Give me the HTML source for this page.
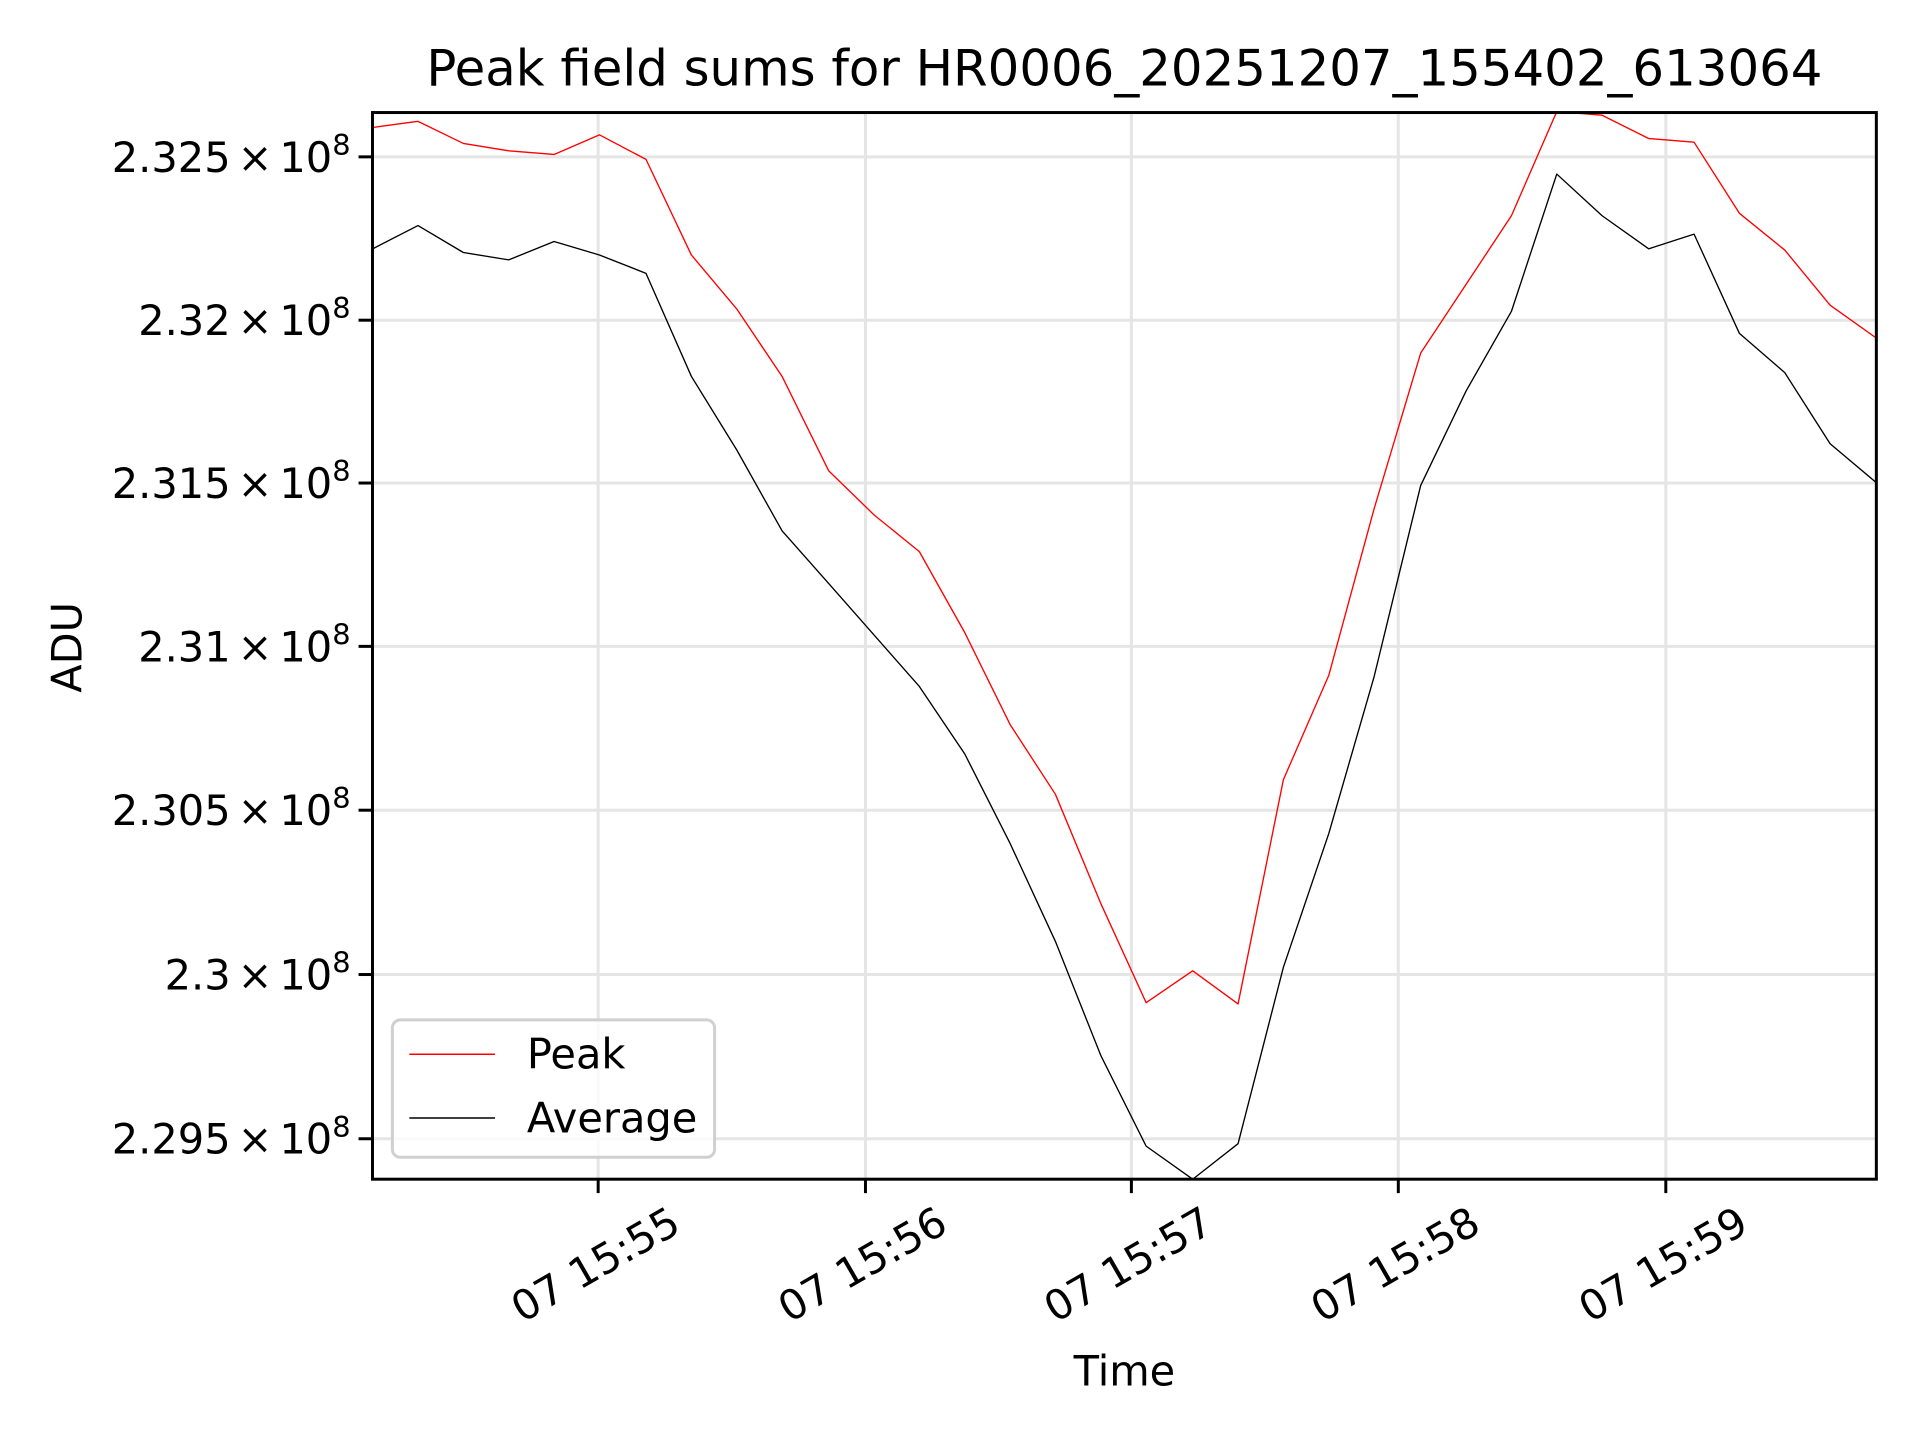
<!DOCTYPE html>
<html><head><meta charset="utf-8"><style>
html,body{margin:0;padding:0;background:#fff}
svg{display:block}
text{font-family:"DejaVu Sans","Liberation Sans",sans-serif;fill:#000}
</style></head><body>
<svg width="1920" height="1440" viewBox="0 0 1920 1440" xmlns="http://www.w3.org/2000/svg">
<defs><clipPath id="c"><rect x="374" y="113" width="1510" height="1071"/></clipPath></defs>
<rect width="1920" height="1440" fill="#fff"/>
<g transform="scale(0.99594)">
<g stroke="#e5e5e5" stroke-width="3">
<line x1="374" x2="1884" y1="157.5" y2="157.5"/>
<line x1="374" x2="1884" y1="321.5" y2="321.5"/>
<line x1="374" x2="1884" y1="485" y2="485"/>
<line x1="374" x2="1884" y1="649" y2="649"/>
<line x1="374" x2="1884" y1="813.5" y2="813.5"/>
<line x1="374" x2="1884" y1="978.5" y2="978.5"/>
<line x1="374" x2="1884" y1="1143.4" y2="1143.4"/>
<line y1="113" y2="1184" x1="600.6" x2="600.6"/>
<line y1="113" y2="1184" x1="869" x2="869"/>
<line y1="113" y2="1184" x1="1136" x2="1136"/>
<line y1="113" y2="1184" x1="1404" x2="1404"/>
<line y1="113" y2="1184" x1="1672.6" x2="1672.6"/>
</g>
<g clip-path="url(#c)">
<g transform="scale(1.2308)" fill="none" stroke-linejoin="round">
<polyline stroke="#ff0000" stroke-width="1.1" points="304,104 341,99 378,117 415,123 452,126 489,110 527,130 564,208 601,252 638,307 676,384 713,420 750,450 787,516 824,591 861,648 898,737 935,818 973,792 1010,819 1047,636 1084,551 1121,415 1159,288 1196,232 1233,176 1270,91 1307,94 1345,113 1382,116 1419,174 1456,204 1493,249 1531,276"/>
<polyline stroke="#000" stroke-width="1.1" points="304,203 341,184 378,206 415,212 452,197 489,208 527,223 564,307 601,367 638,433 676,476 713,518 750,560 787,615 824,688 861,768 898,861 935,935 973,962 1010,933 1047,789 1084,680 1121,552 1159,396 1196,319 1233,254 1270,142 1307,176 1345,203 1382,191 1419,272 1456,304 1493,362 1531,394"/>
</g>
</g>
<rect x="374" y="113" width="1510" height="1071" fill="none" stroke="#000" stroke-width="3"/>
<g stroke="#000" stroke-width="3">
<line x1="360" x2="374" y1="157.5" y2="157.5"/>
<line x1="360" x2="374" y1="321.5" y2="321.5"/>
<line x1="360" x2="374" y1="485" y2="485"/>
<line x1="360" x2="374" y1="649" y2="649"/>
<line x1="360" x2="374" y1="813.5" y2="813.5"/>
<line x1="360" x2="374" y1="978.5" y2="978.5"/>
<line x1="360" x2="374" y1="1143.4" y2="1143.4"/>
<line y1="1184" y2="1198" x1="600.6" x2="600.6"/>
<line y1="1184" y2="1198" x1="869" x2="869"/>
<line y1="1184" y2="1198" x1="1136" x2="1136"/>
<line y1="1184" y2="1198" x1="1404" x2="1404"/>
<line y1="1184" y2="1198" x1="1672.6" x2="1672.6"/>
</g>
<g font-size="41.7" text-anchor="end">
<text x="352" y="172.5">2.325<tspan dx="7">×</tspan><tspan dx="7">10</tspan><tspan font-size="29" dy="-17">8</tspan></text>
<text x="352" y="336.5">2.32<tspan dx="7">×</tspan><tspan dx="7">10</tspan><tspan font-size="29" dy="-17">8</tspan></text>
<text x="352" y="500">2.315<tspan dx="7">×</tspan><tspan dx="7">10</tspan><tspan font-size="29" dy="-17">8</tspan></text>
<text x="352" y="664">2.31<tspan dx="7">×</tspan><tspan dx="7">10</tspan><tspan font-size="29" dy="-17">8</tspan></text>
<text x="352" y="828.5">2.305<tspan dx="7">×</tspan><tspan dx="7">10</tspan><tspan font-size="29" dy="-17">8</tspan></text>
<text x="352" y="993.5">2.3<tspan dx="7">×</tspan><tspan dx="7">10</tspan><tspan font-size="29" dy="-17">8</tspan></text>
<text x="352" y="1158.4">2.295<tspan dx="7">×</tspan><tspan dx="7">10</tspan><tspan font-size="29" dy="-17">8</tspan></text>
</g>
<g font-size="41.7" text-anchor="middle">
<text transform="translate(598,1270) rotate(-30)" dy="14">07 15:55</text>
<text transform="translate(866,1270) rotate(-30)" dy="14">07 15:56</text>
<text transform="translate(1133,1270) rotate(-30)" dy="14">07 15:57</text>
<text transform="translate(1401,1270) rotate(-30)" dy="14">07 15:58</text>
<text transform="translate(1670,1270) rotate(-30)" dy="14">07 15:59</text>
<text x="1129" y="1391">Time</text>
<text transform="translate(82,650) rotate(-90)">ADU</text>
<text x="1129" y="86" font-size="50">Peak field sums for HR0006_20251207_155402_613064</text>
</g>
<rect x="394" y="1024" width="323.5" height="138" rx="8" fill="#fff" fill-opacity="0.8" stroke="#d0d0d0" stroke-width="3"/>
<line x1="411" x2="497" y1="1058.5" y2="1058.5" stroke="#ff0000" stroke-width="1.5"/>
<line x1="411" x2="497" y1="1122.5" y2="1122.5" stroke="#000" stroke-width="1.5"/>
<text x="529" y="1073" font-size="41.7">Peak</text>
<text x="529" y="1137" font-size="41.7">Average</text>
</g>
</svg>
</body></html>
